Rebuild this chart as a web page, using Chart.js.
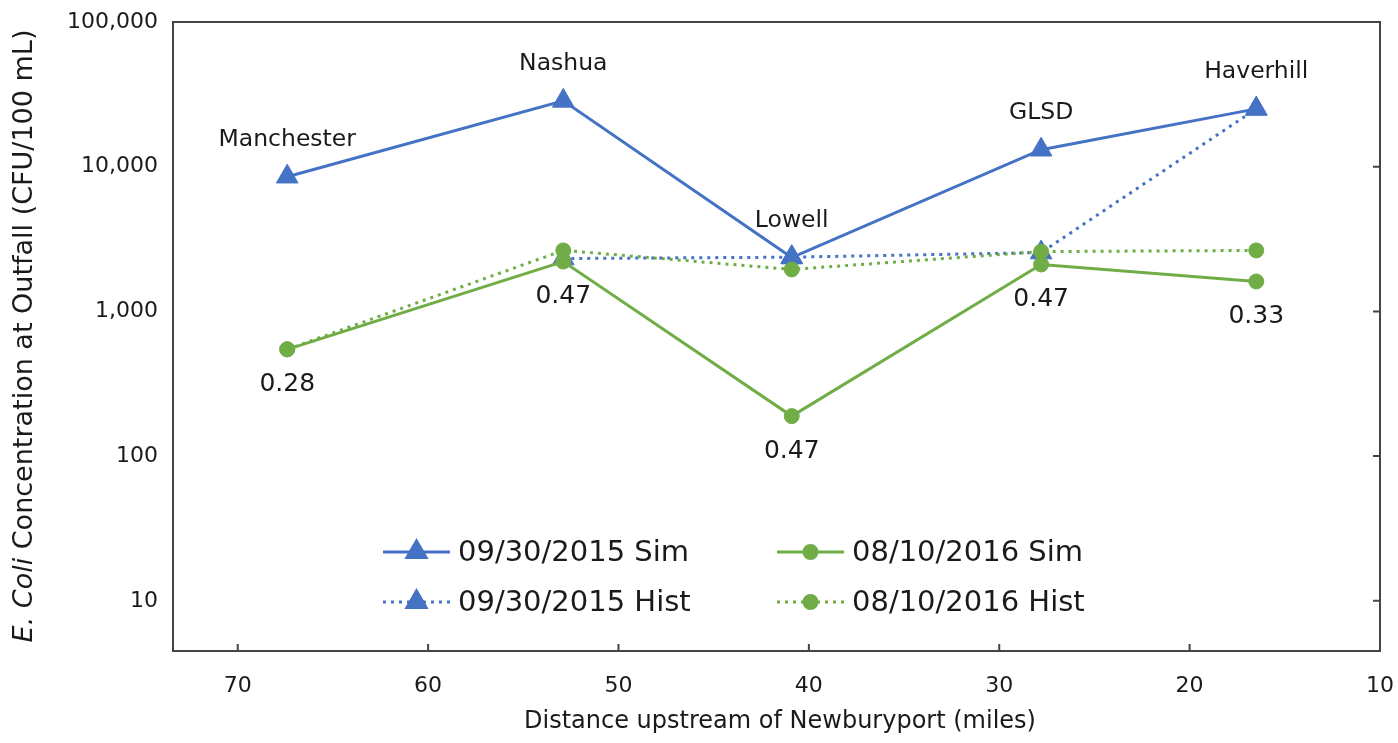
<!DOCTYPE html>
<html>
<head>
<meta charset="utf-8">
<script src="https://cdn.jsdelivr.net/npm/chart.js@4.4.1/dist/chart.umd.min.js"></script>
<style>
  html, body { margin: 0; padding: 0; background: #fff; }
  #wrap { width: 1398px; height: 743px; position: relative; }
</style>
</head>
<body>
<div id="wrap"><canvas id="ecoli"></canvas></div>
<script>
// values
const sites = ['Manchester', 'Nashua', 'Lowell', 'GLSD', 'Haverhill'];
const distances = [67.4, 52.9, 40.9, 27.8, 16.5];
const sim2015 = [8530, 28500, 2355, 13100, 25100];
const hist2015 = [null, 2320, 2370, 2550, 25100];
const sim2016 = [547, 2210, 189, 2110, 1610];
const hist2016 = [547, 2640, 1950, 2590, 2640];
const ratios = ['0.28', '0.47', '0.47', '0.47', '0.33'];
const xTicks = [70, 60, 50, 40, 30, 20, 10];
const yTicks = [10, 100, 1000, 10000, 100000];

const BLUE = '#4472c4';
const GREEN = '#70ad47';
const TEXT = '#1a1a1a';
const FONT = "'DejaVu Sans', sans-serif";

function points(values) {
    return values.map((v, i) => ({ x: distances[i], y: v }));
}

const datasets = [
    {
        label: '09/30/2015 Sim',
        data: points(sim2015),
        borderColor: BLUE, backgroundColor: BLUE,
        borderWidth: 3, pointStyle: 'triangle', pointRadius: 12.5,
        order: 2
    },
    {
        label: '08/10/2016 Sim',
        data: points(sim2016),
        borderColor: GREEN, backgroundColor: GREEN,
        borderWidth: 3, pointStyle: 'circle', pointRadius: 7.5,
        order: 0
    },
    {
        label: '09/30/2015 Hist',
        data: points(hist2015),
        borderColor: BLUE, backgroundColor: BLUE,
        borderWidth: 3, borderDash: [3, 5], pointStyle: 'triangle', pointRadius: 12.5,
        order: 3
    },
    {
        label: '08/10/2016 Hist',
        data: points(hist2016),
        borderColor: GREEN, backgroundColor: GREEN,
        borderWidth: 3, borderDash: [3, 5], pointStyle: 'circle', pointRadius: 7.5,
        order: 1
    }
];
datasets.forEach(ds => { ds.pointBorderWidth = 1; ds.spanGaps = false; });

// box, inward ticks, titles, annotations and in-plot legend
const decorPlugin = {
    id: 'decorPlugin',
    afterDraw(chart) {
        const { ctx, chartArea: a, scales } = chart;
        const xs = scales.x, ys = scales.y;
        ctx.save();

        // frame
        ctx.strokeStyle = '#444';
        ctx.lineWidth = 2;
        ctx.setLineDash([]);
        ctx.strokeRect(a.left, a.top, a.right - a.left, a.bottom - a.top);

        // inward tick marks
        ctx.lineWidth = 2;
        ctx.beginPath();
        xTicks.forEach(t => {
            const px = xs.getPixelForValue(t);
            ctx.moveTo(px, a.bottom);
            ctx.lineTo(px, a.bottom - 7);
        });
        yTicks.forEach(t => {
            const py = ys.getPixelForValue(t);
            ctx.moveTo(a.right, py);
            ctx.lineTo(a.right - 7, py);
        });
        ctx.stroke();

        // site names above the 2015 sim points, ratios under the 2016 sim points
        ctx.fillStyle = TEXT;
        ctx.textAlign = 'center';
        ctx.textBaseline = 'middle';
        ctx.font = '23.5px ' + FONT;
        sites.forEach((name, i) => {
            ctx.fillText(name, xs.getPixelForValue(distances[i]), ys.getPixelForValue(sim2015[i]) - 37);
        });
        ctx.font = '25px ' + FONT;
        ratios.forEach((r, i) => {
            ctx.fillText(r, xs.getPixelForValue(distances[i]), ys.getPixelForValue(sim2016[i]) + 35);
        });

        // x title
        ctx.font = '24px ' + FONT;
        ctx.fillText('Distance upstream of Newburyport (miles)', 780, 722);

        // y title with italic genus
        ctx.translate(25, 336);
        ctx.rotate(-Math.PI / 2);
        const part1 = 'E. Coli';
        const part2 = ' Concentration at Outfall (CFU/100 mL)';
        ctx.font = 'italic 27px ' + FONT;
        const w1 = ctx.measureText(part1).width;
        ctx.font = '27px ' + FONT;
        const w2 = ctx.measureText(part2).width;
        const start = -(w1 + w2) / 2;
        ctx.textAlign = 'left';
        ctx.font = 'italic 27px ' + FONT;
        ctx.fillText(part1, start, 0);
        ctx.font = '27px ' + FONT;
        ctx.fillText(part2, start + w1, 0);
        ctx.setTransform(1, 0, 0, 1, 0, 0);

        // legend inside the plot
        const cols = [383, 777];
        const rows = [552, 602];
        const lineLen = 67;
        datasets.forEach((ds, i) => {
            const x0 = cols[i % 2];
            const y0 = rows[Math.floor(i / 2)];
            ctx.strokeStyle = ds.borderColor;
            ctx.lineWidth = 3;
            ctx.setLineDash(ds.borderDash || []);
            ctx.beginPath();
            ctx.moveTo(x0, y0);
            ctx.lineTo(x0 + lineLen, y0);
            ctx.stroke();
            ctx.setLineDash([]);
            Chart.helpers.drawPoint(ctx, {
                pointStyle: ds.pointStyle,
                radius: ds.pointStyle === 'triangle' ? 11 : 6.5,
                borderWidth: 1
            }, x0 + lineLen / 2, y0);
            ctx.fillStyle = ds.backgroundColor;
            ctx.fill();
            ctx.fillStyle = TEXT;
            ctx.textAlign = 'left';
            ctx.textBaseline = 'middle';
            ctx.font = '29px ' + FONT;
            ctx.fillText(ds.label, x0 + lineLen + 8, y0 + 1);
        });

        ctx.restore();
    }
};

new Chart(document.getElementById('ecoli'), {
    type: 'line',
    data: { datasets: datasets },
    options: {
        responsive: true,
        maintainAspectRatio: false,
        animation: false,
        layout: { padding: { top: 22, right: 18, left: 0, bottom: 0 } },
        plugins: {
            legend: { display: false },
            tooltip: { enabled: false },
        },
        scales: {
            x: {
                type: 'linear',
                reverse: true,
                min: 10,
                max: 73.4,
                afterBuildTicks: scale => { scale.ticks = xTicks.map(v => ({ value: v })); },
                afterFit: scale => {
                    scale.height = 92;
                    scale.paddingLeft = 0;
                    scale.paddingRight = 0;
                },
                grid: { display: false, drawTicks: false },
                border: { display: false },
                ticks: {
                    padding: 22,
                    color: TEXT,
                    font: { family: FONT, size: 22 },
                },
            },
            y: {
                type: 'logarithmic',
                min: 4.5,
                max: 100000,
                afterBuildTicks: scale => { scale.ticks = yTicks.map(v => ({ value: v })); },
                afterFit: scale => {
                    scale.width = 173;
                    scale.paddingTop = 0;
                    scale.paddingBottom = 0;
                },
                grid: { display: false, drawTicks: false },
                border: { display: false },
                ticks: {
                    padding: 15,
                    color: TEXT,
                    font: { family: FONT, size: 22 },
                    callback: value => Number(value).toLocaleString('en-US'),
                },
            },
        },
    },
    plugins: [decorPlugin],
});
</script>
</body>
</html>
